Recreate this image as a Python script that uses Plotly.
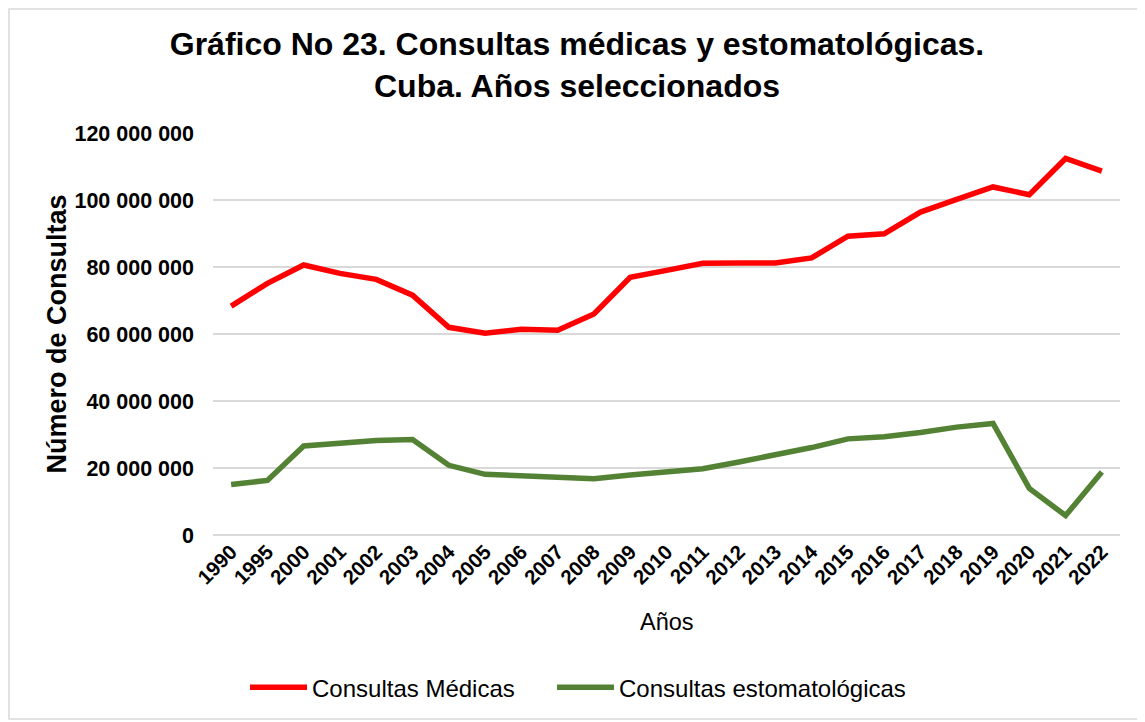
import plotly.graph_objects as go

# Datos
anios = ['1990', '1995', '2000', '2001', '2002', '2003', '2004', '2005', '2006',
         '2007', '2008', '2009', '2010', '2011', '2012', '2013', '2014', '2015',
         '2016', '2017', '2018', '2019', '2020', '2021', '2022']

consultas_medicas = [68.3, 75.1, 80.6, 78.1, 76.3, 71.6, 62.0, 60.2, 61.4,
                     61.1, 66.0, 76.9, 79.0, 81.1, 81.2, 81.2, 82.7, 89.2,
                     89.9, 96.4, 100.2, 103.9, 101.6, 112.4, 108.6]

consultas_estomatologicas = [15.1, 16.3, 26.6, 27.5, 28.2, 28.5, 20.8, 18.1, 17.6,
                             17.1, 16.8, 17.9, 18.8, 19.8, 21.8, 23.8, 26.1, 28.7,
                             29.3, 30.6, 32.2, 33.3, 13.9, 5.8, 18.8]

medicas = [v * 1e6 for v in consultas_medicas]
estomat = [v * 1e6 for v in consultas_estomatologicas]

fig = go.Figure()
fig.add_trace(go.Scatter(x=anios, y=medicas, mode='lines', name='Consultas Médicas',
                         line=dict(color='#FF0000', width=5.5), legend='legend'))
fig.add_trace(go.Scatter(x=anios, y=estomat, mode='lines', name='Consultas estomatológicas',
                         line=dict(color='#548235', width=5.5), legend='legend2'))

# la pagina tiene 8px de margen, por eso el lienzo es algo menor
W, H = 1137, 714

leyenda = dict(orientation='h', xanchor='left', y=-0.38, yanchor='middle',
               font=dict(size=24), itemwidth=57, bgcolor='rgba(0,0,0,0)')

fig.update_layout(
    width=W, height=H,
    margin=dict(l=205, r=25, t=125, b=187),
    paper_bgcolor='white', plot_bgcolor='white',
    separators=', ',
    font=dict(family='Liberation Sans, Arial', color='black'),
    title=dict(text='<b>Gráfico No 23. Consultas médicas y estomatológicas.<br>Cuba. Años seleccionados</b>',
               x=(577 - 8) / W, xref='container', xanchor='center',
               y=1 - 47 / H, yref='container', yanchor='top',
               font=dict(size=32, color='black')),
    showlegend=True,
    legend=dict(leyenda, x=0.0353),
    legend2=dict(leyenda, x=0.3738),
)

fig.update_xaxes(type='category', range=[-0.5, len(anios) - 0.5], tickangle=-45,
                 showgrid=False, showline=False, automargin=False,
                 tickfont=dict(size=20.5), ticks='')
fig.update_yaxes(range=[0, 120e6], dtick=20e6, tickformat=',d', showgrid=True,
                 gridcolor='#d9d9d9', gridwidth=1.5, zeroline=True, zerolinecolor='#d9d9d9',
                 zerolinewidth=1.5, showline=False, ticks='', ticklabelstandoff=18,
                 automargin=False, tickfont=dict(size=21.5))

# tipografia en negrita de las etiquetas de ejes
fig.update_xaxes(tickprefix='<b>', ticksuffix='</b>')
fig.update_yaxes(tickprefix='<b>', ticksuffix='</b>')

fig.add_annotation(text='<b>Número de Consultas</b>', textangle=-90, showarrow=False,
                   xref='paper', yref='paper', x=-0.172, y=0.501,
                   xanchor='center', yanchor='middle', font=dict(size=27))
fig.add_annotation(text='Años', showarrow=False, xref='paper', yref='paper',
                   x=0.5, y=-0.2164, xanchor='center', yanchor='middle', font=dict(size=23.5))

# borde exterior del grafico
fig.add_shape(type='rect', xref='paper', yref='paper',
              x0=-0.2249, x1=1.0243, y0=-0.4577, y1=1.3085,
              line=dict(color='#d9d9d9', width=1.5), layer='below')

fig.write_html('out.html')
